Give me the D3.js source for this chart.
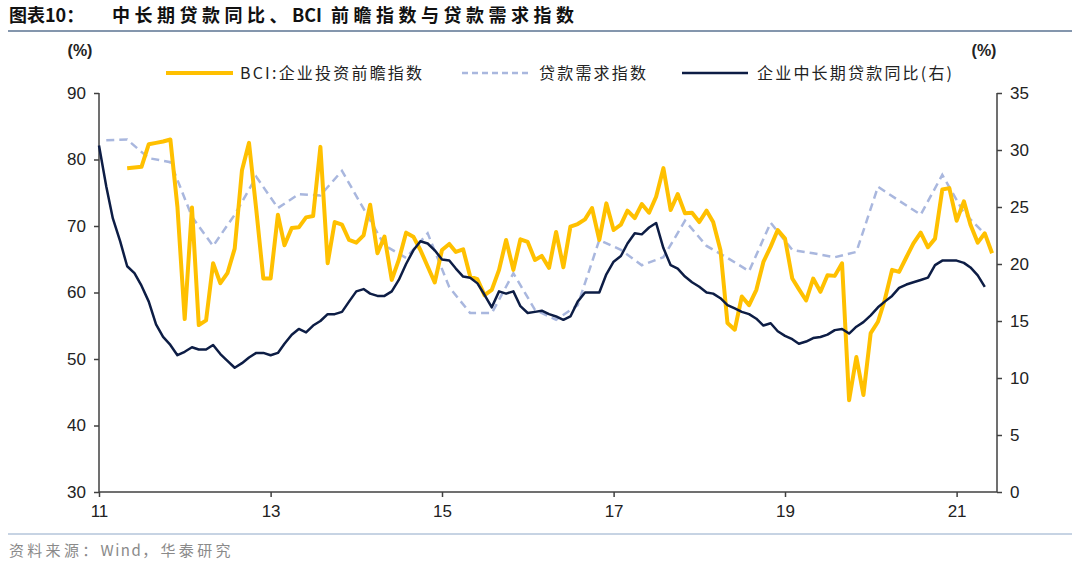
<!DOCTYPE html>
<html>
<head>
<meta charset="utf-8">
<script src="https://cdn.jsdelivr.net/npm/d3@7"></script>
<style>
  body { margin: 0; background: #fff; }
  svg { display: block; }
</style>
</head>
<body>
<script>
var w = 1080,
    h = 566;

// monthly series start in these months (month index from Jan 2011)
var loanStart = 0,
    bciStart = 4,
    demandStart = 1;   // quarterly, every 3 months

// 企业中长期贷款同比 (right axis, %)
var loanYoy = [
  30.4, 26.8, 24.0, 22.0, 19.8, 19.2, 18.1, 16.7, 14.7, 13.6, 12.9, 12.0,
  12.3, 12.7, 12.5, 12.5, 12.9, 12.1, 11.5, 10.9, 11.3, 11.8, 12.2, 12.2,
  12.0, 12.2, 13.0, 13.8, 14.3, 14.0, 14.6, 15.0, 15.6, 15.6, 15.8, 16.7,
  17.6, 17.8, 17.4, 17.2, 17.2, 17.6, 18.6, 20.0, 21.2, 22.0, 21.8, 21.2,
  20.4, 20.3, 19.6, 18.9, 18.8, 18.3, 17.3, 16.2, 17.6, 17.4, 17.6, 16.3,
  15.7, 15.8, 15.9, 15.6, 15.4, 15.1, 15.4, 16.7, 17.5, 17.5, 17.5, 19.1,
  20.2, 20.7, 21.8, 22.7, 22.6, 23.2, 23.6, 21.4, 19.9, 19.6, 18.9, 18.4,
  18.0, 17.5, 17.4, 17.0, 16.4, 16.1, 15.8, 15.6, 15.2, 14.6, 14.8, 14.1,
  13.7, 13.4, 13.0, 13.2, 13.5, 13.6, 13.8, 14.2, 14.3, 13.9, 14.5, 14.9,
  15.5, 16.2, 16.7, 17.2, 17.9, 18.2, 18.4, 18.6, 18.8, 19.9, 20.3, 20.3,
  20.3, 20.1, 19.7, 19.0, 18.0
];

// BCI:企业投资前瞻指数 (left axis)
var bciInvest = [
  78.7, 78.8, 78.9, 82.3, 82.5, 82.7, 83.0, 72.9,
  56.0, 72.8, 55.1, 55.8, 64.4, 61.4, 62.9, 66.6, 78.4, 82.5, 72.4, 62.1,
  62.1, 71.7, 67.1, 69.7, 69.8, 71.3, 71.5, 81.9, 64.4, 70.6, 70.2, 67.9,
  67.5, 68.6, 73.2, 65.9, 68.4, 61.9, 64.9, 69.0, 68.4, 66.4, 63.9, 61.5,
  66.4, 67.3, 66.1, 66.5, 62.4, 62.0, 59.6, 60.4, 63.4, 67.9, 63.4, 68.0,
  67.6, 64.9, 65.5, 63.7, 69.1, 63.8, 69.9, 70.3, 71.0, 72.7, 67.9, 73.4,
  69.4, 70.2, 72.3, 71.2, 73.3, 72.0, 74.4, 78.7, 72.4, 74.8, 71.9, 72.0,
  70.6, 72.3, 70.6, 66.4, 55.4, 54.4, 59.4, 58.1, 60.4, 64.6, 66.9, 69.4,
  68.1, 62.1, 60.5, 58.8, 62.1, 60.1, 62.6, 62.5, 64.4, 43.8, 50.3, 44.6,
  53.9, 55.6, 58.9, 63.4, 63.1, 65.3, 67.4, 69.0, 66.8, 68.1, 75.5, 75.7,
  70.8, 73.7, 70.2, 67.5, 68.9, 65.9
];

// 贷款需求指数 (left axis, quarterly)
var loanDemand = [
  82.9, 83.0, 80.2, 79.6, 71.4, 67.0, 71.7, 77.4, 72.7, 74.8, 74.6, 78.3,
  72.6, 67.1, 65.2, 68.9, 60.8, 56.9, 56.9, 62.9, 57.4, 55.9, 58.1, 67.9,
  66.4, 64.1, 65.3, 70.8, 67.0, 65.2, 63.2, 70.5, 66.4, 65.9, 65.3, 66.1,
  75.9, 73.8, 71.7, 77.7, 72.0, 68.8
];

var xTicks = [2011, 2013, 2015, 2017, 2019, 2021],
    leftTicks = [30, 40, 50, 60, 70, 80, 90],
    rightTicks = [0, 5, 10, 15, 20, 25, 30, 35];

var legendNames = ["BCI:企业投资前瞻指数", "贷款需求指数", "企业中长期贷款同比(右)"];

var monthDate = function(m) { return new Date(2011, m, 1); };

var plotLeft = 99, plotRight = 997, plotTop = 93, plotBottom = 492;

var x = d3.scaleTime()
  .domain([new Date(2011, 0, 1), new Date(2021, 5, 22)])
  .range([plotLeft, plotRight]);
var yL = d3.scaleLinear().domain([30, 90]).range([plotBottom, plotTop]);
var yR = d3.scaleLinear().domain([0, 35]).range([plotBottom, plotTop]);

var svg = d3.select("body").append("svg").attr("width", w).attr("height", h);

var cjk = "'Noto Sans CJK SC', sans-serif",
    latin = "'Liberation Sans', Arial, sans-serif";

// title
var title = svg.append("text")
  .attr("x", 9).attr("y", 22)
  .attr("font-family", cjk).attr("font-weight", "bold")
  .attr("font-size", 18).attr("fill", "#111");
title.append("tspan").text("图表10：");
title.append("tspan").attr("x", 112).attr("letter-spacing", 4.5).text("中长期贷款同比、");
title.append("tspan").attr("letter-spacing", 0).text("BCI");
title.append("tspan").attr("dx", 9).attr("letter-spacing", 4.5).text("前瞻指数与贷款需求指数");

svg.append("line")
  .attr("x1", 8).attr("x2", 1072).attr("y1", 31).attr("y2", 31)
  .attr("stroke", "#8496ad").attr("stroke-width", 2);
svg.append("line")
  .attr("x1", 8).attr("x2", 1072).attr("y1", 534).attr("y2", 534)
  .attr("stroke", "#8fa8c8").attr("stroke-width", 1);

var source = svg.append("text")
  .attr("x", 9).attr("y", 556)
  .attr("font-family", cjk).attr("font-size", 15).attr("fill", "#8a8a8a");
source.append("tspan").attr("letter-spacing", 3.3).text("资料来源：");
source.append("tspan").attr("letter-spacing", 1.5).text("Wind");
source.append("tspan").attr("letter-spacing", 3.3).text("，华泰研究");

// unit labels
svg.append("text").attr("x", 80).attr("y", 56).attr("text-anchor", "middle")
  .attr("font-family", latin).attr("font-weight", "bold").attr("font-size", 16)
  .attr("fill", "#222").text("(%)");
svg.append("text").attr("x", 984).attr("y", 56).attr("text-anchor", "middle")
  .attr("font-family", latin).attr("font-weight", "bold").attr("font-size", 16)
  .attr("fill", "#222").text("(%)");

// axes
var axisLeft = d3.axisLeft(yL).tickValues(leftTicks).tickSize(5).tickPadding(8)
  .tickFormat(d3.format("d"));
var axisRight = d3.axisRight(yR).tickValues(rightTicks).tickSize(5).tickPadding(8)
  .tickFormat(d3.format("d"));
var axisBottom = d3.axisBottom(x)
  .tickValues(xTicks.map(function(y) { return new Date(y, 0, 1); }))
  .tickSize(5).tickPadding(8)
  .tickFormat(function(d) { return String(d.getFullYear()).slice(2); });

function styleAxis(g) {
  g.selectAll("path.domain").attr("stroke", "#404040").attr("stroke-width", 1.5);
  g.selectAll(".tick line").attr("stroke", "#404040").attr("stroke-width", 1.5);
  g.selectAll(".tick text").attr("font-family", latin).attr("font-size", 17)
    .attr("fill", "#222");
}

svg.append("g").attr("transform", "translate(" + plotLeft + ",0)")
  .call(axisLeft).call(styleAxis)
  .call(function(g) { g.select("path.domain").attr("d", "M0," + plotTop + "V" + plotBottom); });
svg.append("g").attr("transform", "translate(" + plotRight + ",0)")
  .call(axisRight).call(styleAxis)
  .call(function(g) { g.select("path.domain").attr("d", "M0," + plotTop + "V" + plotBottom); });
svg.append("g").attr("transform", "translate(0," + plotBottom + ")")
  .call(axisBottom).call(styleAxis)
  .call(function(g) { g.select("path.domain").attr("d", "M" + plotLeft + ",0H" + plotRight); });

// lines
var demandLine = d3.line()
  .x(function(d, i) { return x(monthDate(demandStart + i * 3)); })
  .y(function(d) { return yL(d); });
var bciLine = d3.line()
  .x(function(d, i) { return x(monthDate(bciStart + i)); })
  .y(function(d) { return yL(d); });
var loanLine = d3.line()
  .x(function(d, i) { return x(monthDate(loanStart + i)); })
  .y(function(d) { return yR(d); });

svg.append("path")
  .attr("d", demandLine(loanDemand))
  .attr("fill", "none").attr("stroke", "#a9b7de").attr("stroke-width", 2.5)
  .attr("stroke-dasharray", "8,5");

svg.append("path")
  .attr("d", bciLine(bciInvest))
  .attr("fill", "none").attr("stroke", "#ffc000").attr("stroke-width", 4)
  .attr("stroke-linejoin", "round");

svg.append("path")
  .attr("d", loanLine(loanYoy))
  .attr("fill", "none").attr("stroke", "#0d1d45").attr("stroke-width", 2.5)
  .attr("stroke-linejoin", "round");

// legend
var legendItems = [
  {x1: 166, x2: 233, tx: 240, color: "#ffc000", width: 4, dash: null},
  {x1: 462, x2: 530, tx: 539, color: "#a9b7de", width: 2.5, dash: "6,4"},
  {x1: 682, x2: 748, tx: 757, color: "#0d1d45", width: 2.5, dash: null}
];
var lg = svg.append("g").selectAll("g").data(legendItems).enter().append("g");
lg.append("line")
  .attr("x1", function(d) { return d.x1; })
  .attr("x2", function(d) { return d.x2; })
  .attr("y1", 73).attr("y2", 73)
  .attr("stroke", function(d) { return d.color; })
  .attr("stroke-width", function(d) { return d.width; })
  .attr("stroke-dasharray", function(d) { return d.dash; });
lg.append("text")
  .attr("x", function(d) { return d.tx; })
  .attr("y", 79)
  .attr("font-family", cjk).attr("font-size", 16).attr("fill", "#222")
  .attr("letter-spacing", 2.2)
  .text(function(d, i) { return legendNames[i]; });
</script>
</body>
</html>
